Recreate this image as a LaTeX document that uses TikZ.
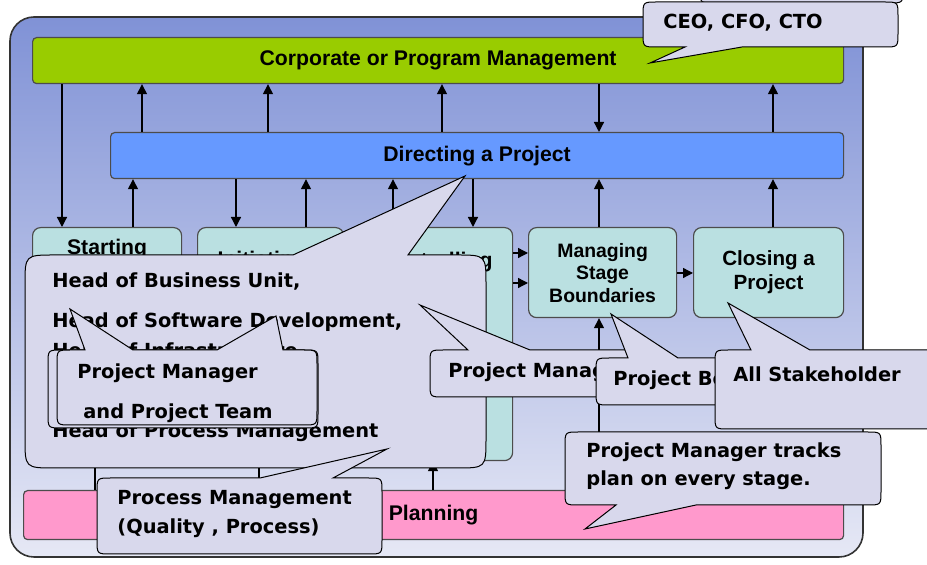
\documentclass[tikz,border=0pt]{standalone}
\usepackage{fontspec}
\setmainfont{DejaVu Sans}
\newfontfamily\boxfamily{Liberation Sans}
\usetikzlibrary{arrows.meta}
\definecolor{frametop}{RGB}{128,146,214}
\definecolor{framebot}{RGB}{230,232,245}
\definecolor{corpgreen}{RGB}{153,204,0}
\definecolor{dirblue}{RGB}{102,153,255}
\definecolor{stageteal}{RGB}{186,224,225}
\definecolor{planpink}{RGB}{255,153,204}
\definecolor{bubblefill}{RGB}{216,216,236}
\def\callfont{\fontsize{9.7}{12}\selectfont\bfseries}
\def\boxfont{\boxfamily\fontsize{10.6}{12}\selectfont\bfseries}
% callout body: radius, x1, y1, x2, y2, pointer on top edge, pointer on bottom edge
\newcommand{\bubblebox}[7]{%
  \filldraw[bubble] (#2,#5-#1) -- (#2,#3+#1) .. controls (#2,#3) .. (#2+#1,#3) #6
    -- (#4-#1,#3) .. controls (#4,#3) .. (#4,#3+#1) -- (#4,#5-#1)
    .. controls (#4,#5) .. (#4-#1,#5) #7 -- (#2+#1,#5) .. controls (#2,#5) .. (#2,#5-#1) -- cycle;}

\begin{document}
\begin{tikzpicture}[x=0.5pt, y=-0.5pt,
  bar/.style={draw=black!70, line width=0.6pt, rounded corners=2pt, anchor=north west, inner sep=0pt, font=\boxfont},
  stage/.style={bar, fill=stageteal, rounded corners=4pt, align=center, minimum width=74pt, minimum height=45pt},
  flow/.style={-{Triangle[length=5pt,width=5pt]}, line width=0.65pt},
  bubble/.style={fill=bubblefill, draw=black, line width=0.5pt},
  calltext/.style={font=\callfont, anchor=west, inner sep=0pt}]
\clip (0,0) rectangle (927,565);
\shadedraw[top color=frametop, bottom color=framebot, draw=black!80, line width=0.8pt, rounded corners=12pt] (10,17) rectangle (863,557);
% bars
\node[bar, fill=corpgreen, minimum width=405.5pt, minimum height=23pt] (corp) at (32,37) {Corporate or Program Management};
\node[bar, fill=dirblue, minimum width=366.5pt, minimum height=23pt] (direct) at (110,132) {Directing a Project};
\node[bar, fill=planpink, minimum width=410pt, minimum height=24.5pt] (plan) at (23,490) {Planning};
% stages
\node[stage, minimum width=74.5pt] (start) at (32,227) {Starting\\up a\\Project};
\node[stage, minimum width=73pt] (init) at (197,227) {Initiating a\\Project};
\node[stage, minimum width=76pt, minimum height=116.5pt] (ctrl) at (360,227) {};
\node[font=\boxfont, align=center] (ctrltext) at (436,274) {Controlling\\a Stage};
\node[stage, font=\boxfamily\fontsize{9.7}{11.25}\selectfont\bfseries] (manage) at (528,227) {Managing\\Stage\\Boundaries};
\node[stage, minimum width=75pt, font=\boxfamily\fontsize{10.3}{12}\selectfont\bfseries] (close) at (693,227) {Closing a\\Project};
% arrows
\coordinate (c) at (62,0);
\draw[flow] (corp.south -| c) -- (start.north -| c);
\coordinate (c) at (599,0);
\draw[flow] (corp.south -| c) -- (direct.north -| c);
\foreach \x in {142,268,442,773}{
  \coordinate (c) at (\x,0);
  \draw[flow] (direct.north -| c) -- (corp.south -| c);
}
\foreach \x/\src in {133/start,306/init,393/ctrl,599/manage,773/close}{
  \coordinate (c) at (\x,0);
  \draw[flow] (\src.north -| c) -- (direct.south -| c);
}
\foreach \x/\dst in {236/init,473/ctrl}{
  \coordinate (c) at (\x,0);
  \draw[flow] (direct.south -| c) -- (\dst.north -| c);
}
\foreach \x/\dst in {95/start,259/init,433/ctrl,599/manage}{
  \coordinate (c) at (\x,0);
  \draw[flow] (plan.north -| c) -- (\dst.south -| c);
}
\foreach \y/\a/\b in {253/ctrl/manage,283/ctrl/manage,273/manage/close}{
  \coordinate (c) at (0,\y);
  \draw[flow] (\a.east |- c) -- (\b.west |- c);
}
% callouts
\bubblebox{30}{25}{255}{486}{468}{-- (293,255) -- (465,176) -- (408,255)}{}
\node[calltext] (headbu) at (52,282) {Head of Business Unit,};
\node[calltext] (headsd) at (52,322) {Head of Software Development,};
\node[calltext] (headin) at (52,352) {Head of Infrastructure,};
\node[calltext] (headpm) at (52,432) {Head of Process Management};
\bubblebox{14}{48}{350}{318}{428}{}{}
\bubblebox{14}{57}{350}{317}{425}{-- (85,350) -- (70,309) -- (133,350) -- (217,350) -- (276,316) -- (283,350)}{}
\node[calltext] (pm) at (77,373) {Project Manager};
\node[calltext] (team) at (83,413) {and Project Team};
\bubblebox{14}{97}{478}{382}{554}{-- (260,478) -- (387,449) -- (333,478)}{}
\node[calltext] (procmgmt) at (117,500) {Process Management};
\node[calltext] (quality) at (117,528) {(Quality , Process)};
\bubblebox{14}{430}{350}{640}{397}{-- (468,350) -- (420,305) -- (530,350)}{}
\node[calltext] (manager) at (448,372) {Project Manager};
\bubblebox{14}{596}{358}{760}{405}{-- (628,358) -- (611,314) -- (678,358)}{}
\node[calltext] (board) at (613,380) {Project Board};
\bubblebox{14}{715}{350}{945}{429}{-- (751,350) -- (728,303) -- (810,350)}{}
\node[calltext] (stake) at (733,374) {All Stakeholder};
\bubblebox{14}{565}{432}{881}{505}{}{-- (696,505) -- (585,529) -- (616,505)}
\node[calltext] (tracks) at (586,452) {Project Manager tracks};
\node[calltext] (everystage) at (586,480) {plan on every stage.};
\bubblebox{14}{700}{-40}{903}{3}{}{}
\bubblebox{14}{643}{2}{898}{47}{}{-- (742,47) -- (650,63) -- (685,47)}
\node[calltext] (ceo) at (663,23) {CEO, CFO, CTO};
\end{tikzpicture}
\end{document}
